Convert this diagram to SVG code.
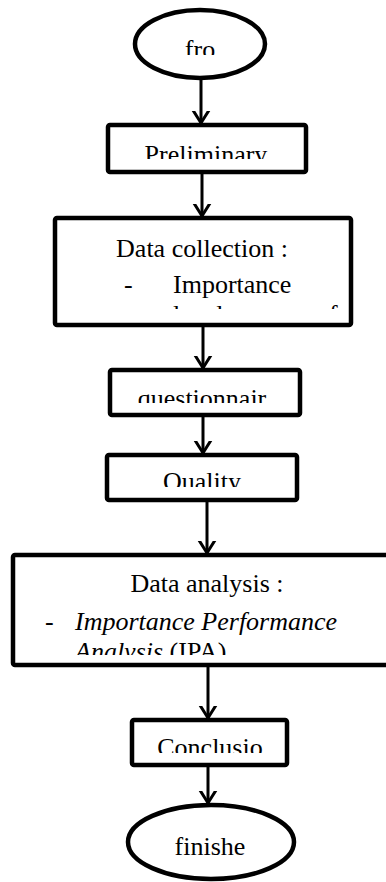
<svg xmlns="http://www.w3.org/2000/svg" width="386" height="882" viewBox="0 0 386 882">
<style>
.shape{fill:#fff;stroke:#000;stroke-width:4.5;stroke-linejoin:round}
.t{font-family:"Liberation Serif","Times New Roman",serif;font-size:26px;fill:#000}
.c{text-anchor:middle}
.i{font-style:italic}
.conn line{stroke:#000;stroke-width:3}
</style>
<defs>
<marker id="arr" markerUnits="userSpaceOnUse" markerWidth="24" markerHeight="24" viewBox="-12 -12 24 24" refX="0" refY="0" orient="auto">
<path d="M-16,-10 L0,0 L-16,10" fill="none" stroke="#000" stroke-width="3"/>
</marker>
<clipPath id="c1"><rect x="130" y="20" width="140" height="35"/></clipPath>
<clipPath id="c2"><rect x="110" y="128" width="195" height="31"/></clipPath>
<clipPath id="c3"><rect x="57" y="221" width="292" height="88"/></clipPath>
<clipPath id="c4"><rect x="112" y="373" width="186" height="30"/></clipPath>
<clipPath id="c5"><rect x="109" y="458" width="186" height="29"/></clipPath>
<clipPath id="c6"><rect x="15" y="558" width="371" height="97"/></clipPath>
<clipPath id="c7"><rect x="134" y="723" width="151" height="30"/></clipPath>
</defs>
<g id="connectors" class="conn">
<line x1="201" y1="78" x2="201" y2="123" marker-end="url(#arr)"/>
<line x1="202" y1="172" x2="202" y2="216" marker-end="url(#arr)"/>
<line x1="203" y1="325" x2="203" y2="368" marker-end="url(#arr)"/>
<line x1="203" y1="415" x2="203" y2="453" marker-end="url(#arr)"/>
<line x1="207" y1="500" x2="207" y2="553" marker-end="url(#arr)"/>
<line x1="208" y1="665" x2="208" y2="718" marker-end="url(#arr)"/>
<line x1="208" y1="765" x2="208" y2="803" marker-end="url(#arr)"/>
</g>
<g id="start">
<ellipse class="shape" cx="200" cy="44" rx="65" ry="34"/>
<text class="t c" x="200" y="58" clip-path="url(#c1)">fro</text>
</g>
<g id="preliminary">
<rect class="shape" x="108" y="125" width="198" height="47" rx="2"/>
<text class="t c" x="206" y="163" clip-path="url(#c2)">Preliminary</text>
</g>
<g id="data-collection">
<rect class="shape" x="55" y="218" width="296" height="107" rx="2"/>
<g clip-path="url(#c3)">
<text class="t c" x="202" y="257">Data collection :</text>
<text class="t" x="124" y="293">-</text>
<text class="t" x="173" y="293">Importance</text>
<text class="t" x="173" y="323">level</text>
<text class="t" x="316" y="323">of</text>
</g>
</g>
<g id="questionnaire">
<rect class="shape" x="110" y="370" width="190" height="45" rx="2"/>
<text class="t c" x="202" y="407" clip-path="url(#c4)">questionnair</text>
</g>
<g id="quality">
<rect class="shape" x="107" y="455" width="190" height="45" rx="2"/>
<text class="t c" x="202" y="490" clip-path="url(#c5)">Quality</text>
</g>
<g id="data-analysis">
<rect class="shape" x="13" y="555" width="390" height="110" rx="2"/>
<g clip-path="url(#c6)">
<text class="t c" x="207" y="592">Data analysis :</text>
<text class="t" x="45" y="630">-</text>
<text class="t i" x="75" y="630">Importance Performance</text>
<text class="t" x="75" y="660"><tspan class="i">Analysis</tspan> (IPA)</text>
</g>
</g>
<g id="conclusion">
<rect class="shape" x="132" y="720" width="155" height="45" rx="2"/>
<text class="t c" x="210" y="756" clip-path="url(#c7)">Conclusio</text>
</g>
<g id="finish">
<ellipse class="shape" cx="211" cy="842" rx="83" ry="37"/>
<text class="t c" x="210" y="855">finishe</text>
</g>
</svg>
